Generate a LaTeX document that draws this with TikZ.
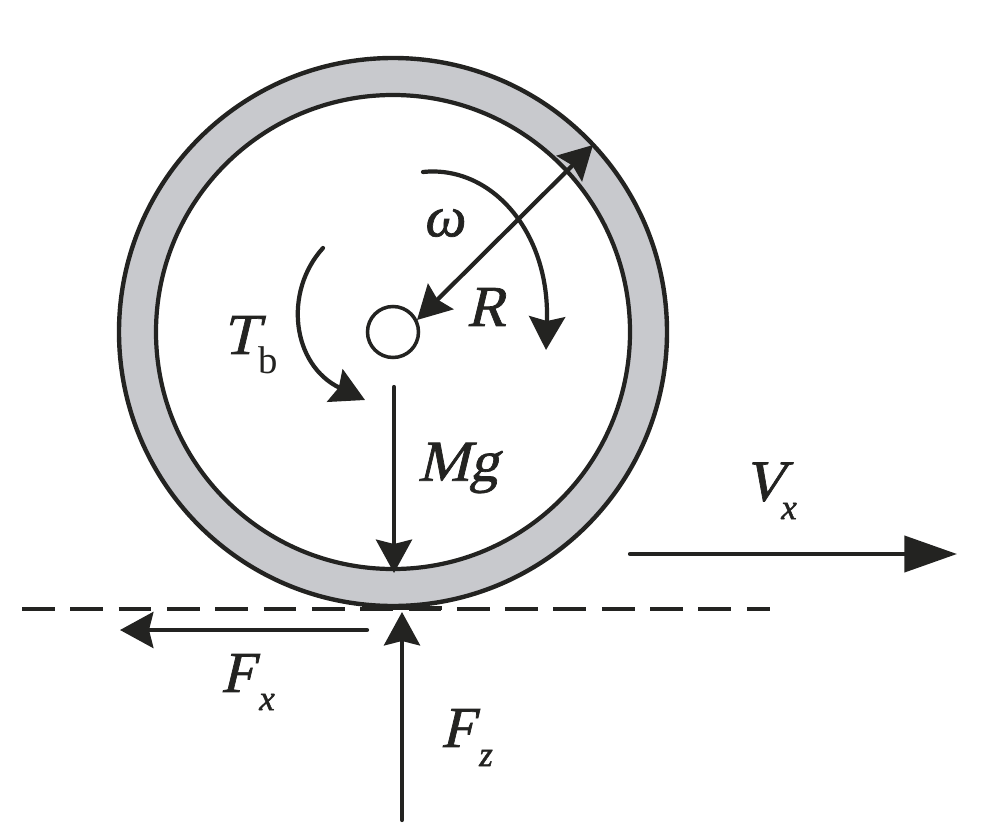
\documentclass[tikz,border=0pt]{standalone}
\usepackage{tikz}
\usetikzlibrary{arrows.meta}
\usepackage{fontspec}
\setmainfont{Liberation Serif}
\newfontfamily\capfont{Liberation Serif}[FakeSlant=0.24, FakeBold=1.2]
\newfontfamily\itfont{Liberation Serif Italic}[FakeBold=1.2]
\definecolor{rimgray}{RGB}{200,201,205}
\definecolor{inkblack}{RGB}{35,35,33}

\tikzset{
    head/.tip={Stealth[length=19pt, width=20.5pt, inset=2.5pt]},
    longhead/.tip={Stealth[length=30pt, width=20.5pt, inset=0pt]},
    force/.style={draw=inkblack, line width=2.4pt, line cap=round, -head},
    sym/.style={inner sep=0pt, font=\fontsize{33}{33}\capfont, text=inkblack},
    greeksym/.style={inner sep=0pt, font=\fontsize{33}{33}\itfont, text=inkblack},
    subsym/.style={inner sep=0pt, font=\fontsize{20}{20}\itfont, text=inkblack},
}

\begin{document}
\begin{tikzpicture}[x=0.02cm, y=-0.02cm]
    \useasboundingbox (0, 0) rectangle (1007, 838);

    % wheel
    \coordinate (hub) at (393, 332);
    \fill[rimgray] (hub) circle [radius=274];
    \draw[inkblack, line width=2.5pt] (hub) circle [radius=274];
    \draw[inkblack, line width=2.4pt, fill=white] (hub) circle [radius=237];
    \draw[inkblack, line width=2pt, fill=white] (hub) circle [radius=25.5];

    % ground
    \coordinate (groundL) at (22, 609);
    \coordinate (groundR) at (770, 609);
    \draw[inkblack, line width=2.3pt, dash pattern=on 18.7pt off 8.8pt] (groundL) -- (groundR);
    \coordinate (contactL) at (362, 608);
    \coordinate (contactR) at (442, 608);
    \draw[inkblack, line width=2.4pt] (contactL) -- (contactR);

    % radius
    \coordinate (rimPt) at (593, 145);
    \coordinate (hubPt) at (417, 320);
    \draw[force, head-head] (hubPt) -- (rimPt);

    % rotation
    \coordinate (omegaA) at (423, 172);
    \coordinate (omegaB) at (546, 350);
    \draw[force] (omegaA) .. controls (490, 165) and (550, 230) .. (omegaB);
    \coordinate (torqueA) at (323, 248);
    \coordinate (torqueB) at (365, 400);
    \draw[force] (torqueA) .. controls (283, 292) and (292, 365) .. (torqueB);

    % forces
    \coordinate (mgA) at (394, 387);
    \coordinate (mgB) at (394, 573);
    \draw[force] (mgA) -- (mgB);
    \coordinate (vxA) at (630, 554);
    \coordinate (vxB) at (957, 554);
    \draw[force, -longhead] (vxA) -- (vxB);
    \coordinate (fxA) at (367, 630);
    \coordinate (fxB) at (120, 630);
    \draw[force] (fxA) -- (fxB);
    \coordinate (fzA) at (402, 820);
    \coordinate (fzB) at (402, 612);
    \draw[force] (fzA) -- (fzB);

    % labels
    \node[greeksym] (omegaLbl) at (446, 223) {ω};
    \node[sym] (rLbl) at (486, 307) {R};
    \node[sym] (tLbl) at (240, 335) {T};
    \node[inner sep=0pt, font=\fontsize{22}{22}\selectfont, text=inkblack] (tSub) at (268, 360) {b};
    \node[sym] (mgLbl) at (458, 468) {Mg};
    \node[sym] (vLbl) at (764, 482) {V};
    \node[subsym] (vSub) at (789, 511) {x};
    \node[sym] (fxLbl) at (237, 673) {F};
    \node[subsym] (fxSub) at (267, 702) {x};
    \node[sym] (fzLbl) at (457, 728) {F};
    \node[subsym] (fzSub) at (486, 758) {z};
\end{tikzpicture}
\end{document}
